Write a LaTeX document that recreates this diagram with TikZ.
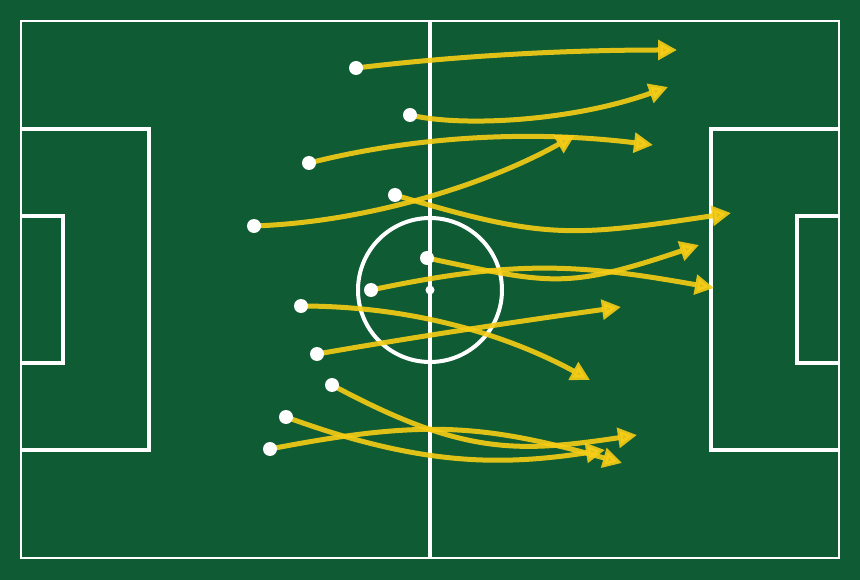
\documentclass[tikz,border=0pt]{standalone}
\usetikzlibrary{arrows.meta}
\definecolor{pitch}{RGB}{15,91,52}
\definecolor{runyellow}{RGB}{247,205,22}
\tikzset{
  pitchline/.style={draw=white, line width=4pt},
  border/.style={draw=white, line width=2.8pt},
  run/.style={draw=runyellow, line width=5pt, draw opacity=0.9, fill opacity=0.9,
    -{Triangle[length=19pt,width=19.5pt]}},
  player/.style={circle, fill=white, inner sep=0pt, minimum size=14pt},
}
\begin{document}
\begin{tikzpicture}[x=1pt,y=-1pt]
\useasboundingbox (0,0) rectangle (860,580);
\fill[pitch] (0,0) rectangle (860,580);
% pitch markings
\draw[border] (21,21) rectangle (839,558);
\draw[pitchline] (430,21) -- (430,558);
\draw[pitchline] (430,290) circle (72);
\fill[white] (430,290) circle (4.5);
\draw[pitchline] (21,129.5) -- (149,129.5) -- (149,449.5) -- (21,449.5);
\draw[pitchline] (21,216) -- (63,216) -- (63,363) -- (21,363);
\draw[pitchline] (839,129.5) -- (711,129.5) -- (711,449.5) -- (839,449.5);
\draw[pitchline] (839,216) -- (797,216) -- (797,363) -- (839,363);
% start positions
\coordinate (s1) at (356,68);
\coordinate (s2) at (410,115);
\coordinate (s3) at (309,163);
\coordinate (s4) at (254,226);
\coordinate (s5) at (395,195);
\coordinate (s6) at (427,258);
\coordinate (s7) at (371,290);
\coordinate (s8) at (301,306);
\coordinate (s9) at (317,354);
\coordinate (s10) at (332,385);
\coordinate (s11) at (286,417);
\coordinate (s12) at (270,449);
% end positions
\coordinate (e1) at (677,50);
\coordinate (e2) at (668,87);
\coordinate (e3) at (653,145);
\coordinate (e4) at (575,135);
\coordinate (e5) at (731,213);
\coordinate (e6) at (699,245);
\coordinate (e7) at (714,288);
\coordinate (e8) at (590,380);
\coordinate (e9) at (621,307);
\coordinate (e10) at (637,435);
\coordinate (e11) at (605,450);
\coordinate (e12) at (622,463);
% runs
\draw[run] (s1) .. controls (456,56) and (563,50) .. (e1);
\draw[run] (s2) .. controls (460,127) and (570,122) .. (e2);
\draw[run] (s3) .. controls (416,136) and (531,130) .. (e3);
\draw[run] (s4) .. controls (370,222) and (490,183) .. (e4);
\draw[run] (s5) .. controls (545,240) and (571,237) .. (e5);
\draw[run] (s6) .. controls (550,284) and (565,290) .. (e6);
\draw[run] (s7) .. controls (511,260.6) and (574,262.8) .. (e7);
\draw[run] (s8) .. controls (404,306) and (500,331) .. (e8);
\draw[run] (s9) .. controls (426,335) and (528,320) .. (e9);
\draw[run] (s10) .. controls (462,455) and (517,453) .. (e10);
\draw[run] (s11) .. controls (420,466) and (500,466) .. (e11);
\draw[run] (s12) .. controls (420,420) and (480,423) .. (e12);
% players
\foreach \i in {1,...,12} { \node[player] (p\i) at (s\i) {}; }
\end{tikzpicture}
\end{document}
